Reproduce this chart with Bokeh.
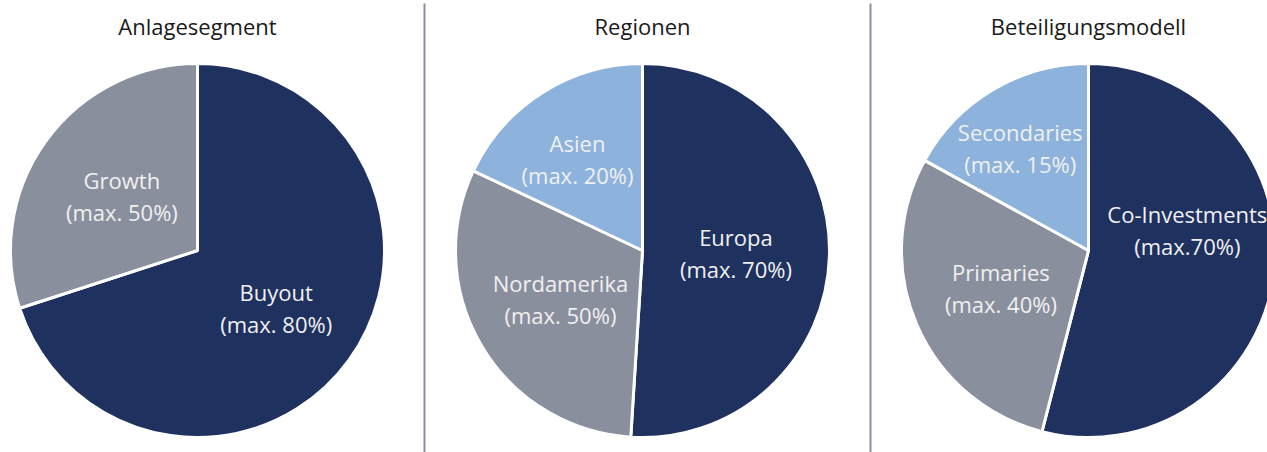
import math
from bokeh.plotting import figure
from bokeh.models import Range1d
from bokeh.core.properties import value
from bokeh.embed import file_html
from bokeh.resources import INLINE

# ---- data ----
titles = ["Anlagesegment", "Regionen", "Beteiligungsmodell"]

seg_names = ["Buyout", "Growth"]
seg_max = ["(max. 80%)", "(max. 50%)"]
seg_values = [70, 30]

reg_names = ["Europa", "Nordamerika", "Asien"]
reg_max = ["(max. 70%)", "(max. 50%)", "(max. 20%)"]
reg_values = [51, 31, 18]

mod_names = ["Co-Investments", "Primaries", "Secondaries"]
mod_max = ["(max.70%)", "(max. 40%)", "(max. 15%)"]
mod_values = [54, 29, 17]

colors_2 = ["#1F315E", "#8A8F9E"]
colors_3 = ["#1F315E", "#8A8F9E", "#8DB3DC"]

# ---- layout (pixel-like data units; y up) ----
W, H = 1267, 452
p = figure(width=W, height=H, output_backend="svg", toolbar_location=None,
           x_range=Range1d(0, W), y_range=Range1d(0, H),
           min_border=0)
p.axis.visible = False
p.grid.visible = False
p.outline_line_color = None
p.background_fill_color = "white"

FONT = "Open Sans"
FS = "22px"
R = 187
CY = H - 250
centers_x = [197, 642, 1088]
# label radial factor and angle nudge (degrees) per slice
label_r = [[0.52, 0.50], [0.50, 0.51, 0.60], [0.54, 0.51, 0.66]]
label_da = [[0, 0], [0, 0, 3], [19, 0, 3]]

pies = [
    (seg_names, seg_max, seg_values, colors_2),
    (reg_names, reg_max, reg_values, colors_3),
    (mod_names, mod_max, mod_values, colors_3),
]

for i, (names, maxes, vals, cols) in enumerate(pies):
    cx = centers_x[i]
    total = float(sum(vals))
    cum = 0.0
    starts, ends = [], []
    lx, ly = [], []
    for j, v in enumerate(vals):
        a0 = cum / total
        cum += v
        a1 = cum / total
        start = math.pi / 2 - 2 * math.pi * a1
        end = math.pi / 2 - 2 * math.pi * a0
        starts.append(start)
        ends.append(end)
        mid = (start + end) / 2 + math.radians(label_da[i][j])
        lx.append(cx + label_r[i][j] * R * math.cos(mid))
        ly.append(CY + label_r[i][j] * R * math.sin(mid))
    p.wedge(x=[cx] * len(vals), y=[CY] * len(vals), radius=R,
            start_angle=starts, end_angle=ends,
            fill_color=cols, line_color="white", line_width=3)
    p.text(x=lx, y=[y + 16 for y in ly], text=names,
           text_font=value(FONT), text_font_size=FS,
           text_color="#F0F0F0", text_align="center", text_baseline="middle")
    p.text(x=lx, y=[y - 16 for y in ly], text=maxes,
           text_font=value(FONT), text_font_size=FS,
           text_color="#F0F0F0", text_align="center", text_baseline="middle")
    p.text(x=[cx], y=[H - 25], text=[titles[i]],
           text_font=value(FONT), text_font_size=FS,
           text_color="#1A1A1A", text_align="center", text_baseline="middle")

sep_x = [424, 870]
p.segment(x0=sep_x, y0=[0, 0], x1=sep_x, y1=[H - 3, H - 3],
          line_color="#8A8F9E", line_width=2)

open("out.html", "w").write(file_html(p, INLINE))
